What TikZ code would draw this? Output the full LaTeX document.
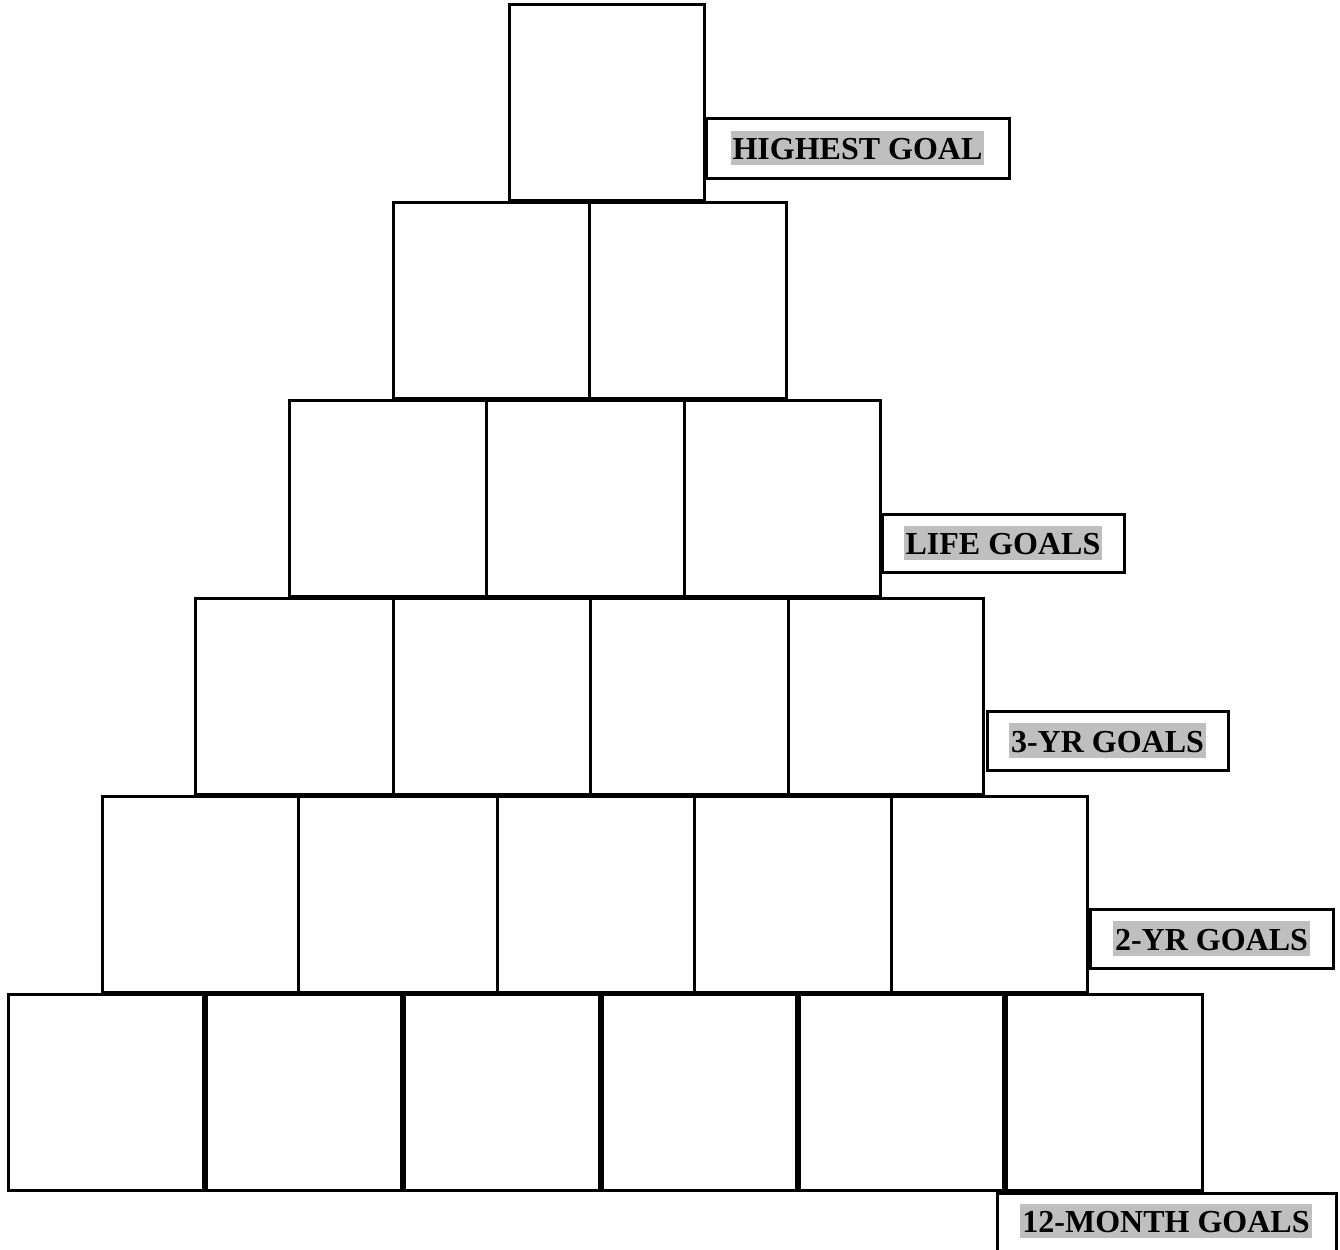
\documentclass[tikz,border=0pt]{standalone}
\usepackage{fontspec}
\setmainfont{Liberation Serif}
\usetikzlibrary{fit}
\begin{document}
\begin{tikzpicture}[x=0.5pt,y=-0.5pt,
  cell/.style={draw, line width=1.5pt, inner sep=0pt},
  lblbox/.style={draw, line width=1.5pt, inner sep=0pt},
  lbltext/.style={fill=black!25, inner xsep=1pt, inner ysep=0pt, text height=14.3pt, text depth=2.8pt, font=\fontsize{16}{18}\selectfont\bfseries}]
\useasboundingbox (0,0) rectangle (1340,1249);
% row 1
\node[cell, fit={(509,4) (704,200)}] (r1a) {};
% row 2
\node[cell, fit={(393,202) (589,398)}] (r2a) {};
\node[cell, fit={(589,202) (786,398)}] (r2b) {};
% row 3
\node[cell, fit={(289,400) (486,596)}] (r3a) {};
\node[cell, fit={(486,400) (684,596)}] (r3b) {};
\node[cell, fit={(684,400) (880,596)}] (r3c) {};
% row 4
\node[cell, fit={(195,598) (393,794)}] (r4a) {};
\node[cell, fit={(393,598) (590,794)}] (r4b) {};
\node[cell, fit={(590,598) (788,794)}] (r4c) {};
\node[cell, fit={(788,598) (983,794)}] (r4d) {};
% row 5
\node[cell, fit={(102,796) (298,992)}] (r5a) {};
\node[cell, fit={(298,796) (497,992)}] (r5b) {};
\node[cell, fit={(497,796) (694,992)}] (r5c) {};
\node[cell, fit={(694,796) (891,992)}] (r5d) {};
\node[cell, fit={(891,796) (1087,992)}] (r5e) {};
% row 6
\node[cell, fit={(8,994) (205,1190)}] (r6a) {};
\node[cell, fit={(205,994) (403,1190)}] (r6b) {};
\node[cell, fit={(403,994) (601,1190)}] (r6c) {};
\node[cell, fit={(601,994) (798,1190)}] (r6d) {};
\node[cell, fit={(798,994) (1005,1190)}] (r6e) {};
\node[cell, fit={(1005,994) (1202,1190)}] (r6f) {};
\foreach \xx in {205,403,601,798,1005} \draw[line width=2.8pt] (\xx,994) -- (\xx,1190);
% labels
\node[lblbox, fit={(706,118) (1009,178)}] (l1) {};
\node[lbltext] (t1) at (l1.center) {HIGHEST GOAL};
\node[lblbox, fit={(882,514) (1124,572)}] (l2) {};
\node[lbltext] (t2) at (l2.center) {LIFE GOALS};
\node[lblbox, fit={(987,711) (1228,770)}] (l3) {};
\node[lbltext] (t3) at (l3.center) {3-YR GOALS};
\node[lblbox, fit={(1090,909) (1333,968)}] (l4) {};
\node[lbltext] (t4) at (l4.center) {2-YR GOALS};
\node[lblbox, fit={(997,1193) (1336,1262)}] (l5) {};
\node[lbltext] (t5) at (1166,1221) {12-MONTH GOALS};
\end{tikzpicture}
\end{document}
